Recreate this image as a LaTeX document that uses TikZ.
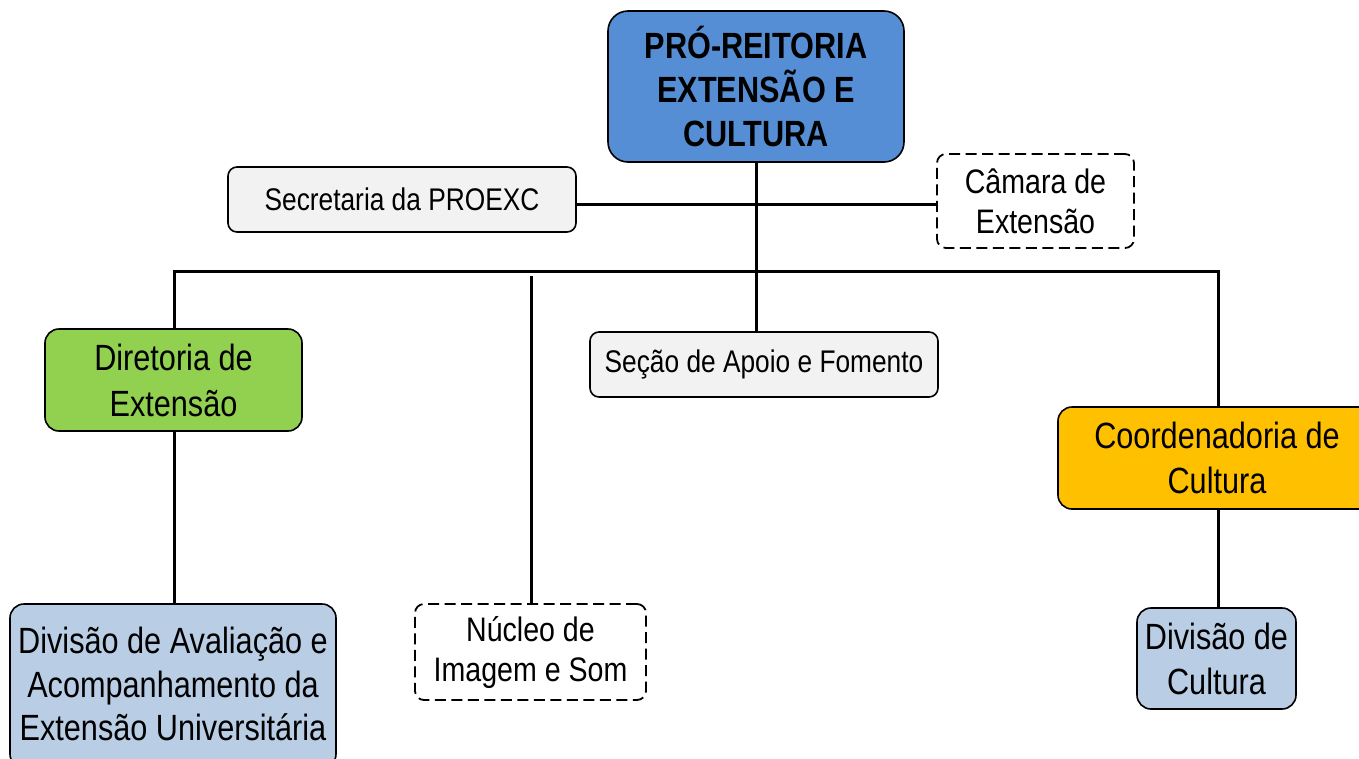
\documentclass[tikz,border=0pt]{standalone}
\usepackage{fontspec}
\setmainfont{Liberation Sans}[FakeStretch=0.84]
\definecolor{problue}{HTML}{558ED5}
\definecolor{greybox}{HTML}{F2F2F2}
\definecolor{greenbox}{HTML}{92D050}
\definecolor{orangebox}{HTML}{FFC000}
\definecolor{lightblue}{HTML}{B9CDE5}
\tikzset{
  box/.style={draw=black, line width=1.6pt, rounded corners=14pt, align=center, inner sep=0pt, font=\fontsize{36.5}{45}\selectfont},
  smallbox/.style={box, rounded corners=9pt, font=\fontsize{31.3}{40}\selectfont},
  dbox/.style={smallbox, line width=1.8pt, dash pattern=on 11pt off 5.5pt, fill=white, font=\fontsize{34}{40}\selectfont},
  conn/.style={line width=3pt, line cap=butt}
}
\begin{document}
\begin{tikzpicture}[x=1pt,y=1pt]
\useasboundingbox (0,0) rectangle (1359,-758);
\clip (0,0) rectangle (1359,-758);
% nodes
\node[box, fill=problue, minimum width=296pt, minimum height=151pt, font=\bfseries\fontsize{36.5}{44}\selectfont, rounded corners=20pt] (pro) at (756,-86.5) {PRÓ-REITORIA\\EXTENSÃO E\\CULTURA};
\node[smallbox, fill=greybox, minimum width=348pt, minimum height=65pt] (sec) at (402,-199.5) {Secretaria da PROEXC};
\node[dbox, minimum width=197pt, minimum height=94pt] (cam) at (1035.5,-201) {Câmara de\\Extensão};
\node[box, fill=greenbox, minimum width=257pt, minimum height=102pt, font=\fontsize{36.5}{46}\selectfont] (dir) at (173.5,-380) {Diretoria de\\Extensão};
\node[smallbox, fill=greybox, minimum width=348pt, minimum height=65pt] (apo) at (764,-364.5) {Seção de Apoio e Fomento};
\node[box, fill=orangebox, minimum width=318pt, minimum height=102pt] (coo) at (1217,-458) {Coordenadoria de\\Cultura};
\node[box, fill=lightblue, minimum width=326pt, minimum height=164pt] (diva) at (173,-686) {};
\node[font=\fontsize{36.5}{43.5}\selectfont, align=center, inner sep=0pt] (divatext) at (173,-684) {Divisão de Avaliação e\\Acompanhamento da\\Extensão Universitária};
\node[dbox, minimum width=231pt, minimum height=96pt] (nuc) at (530.5,-652) {Núcleo de\\Imagem e Som};
\node[box, fill=lightblue, minimum width=159pt, minimum height=101pt] (divc) at (1216.5,-658.5) {Divisão de\\Cultura};
% connectors
\coordinate (busL) at (174,-271);
\coordinate (busR) at (1218,-271);
\coordinate (secJ) at (576,-204);
\coordinate (camJ) at (937,-204);
\draw[conn] (pro.south) -- (pro.south |- apo.north);
\draw[conn] ([xshift=-1.5pt]busL) -- ([xshift=1.5pt]busR);
\draw[conn] (secJ) -- (camJ);
\draw[conn] (busL) -- (busL |- dir.north);
\draw[conn] (busL |- dir.south) -- (busL |- diva.north);
\draw[conn] (nuc.north -| 531,0) -- (531,-276);
\draw[conn] (busR) -- (busR |- coo.north);
\draw[conn] (busR |- coo.south) -- (busR |- divc.north);
\end{tikzpicture}
\end{document}
